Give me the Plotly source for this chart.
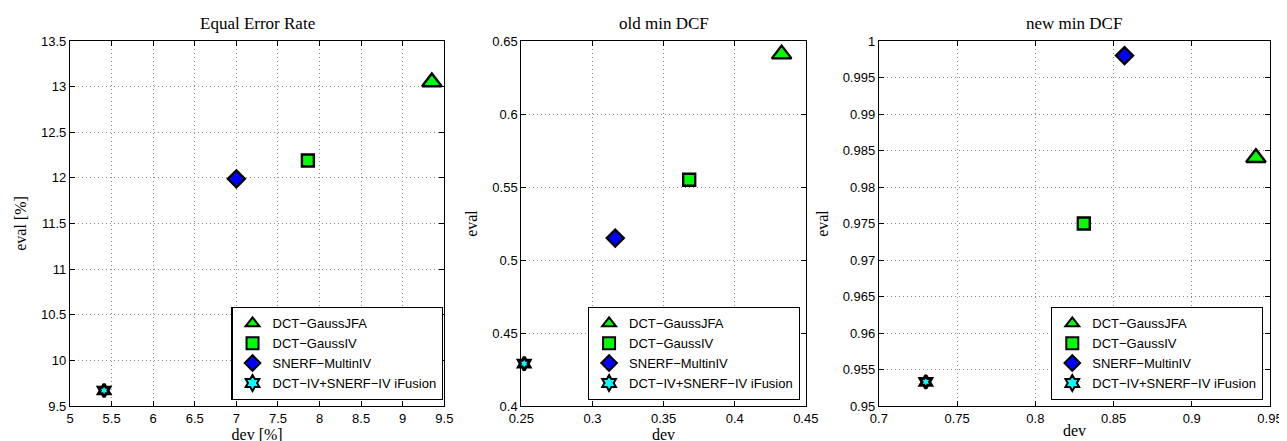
import plotly.graph_objects as go

series_names = ["DCT−GaussJFA", "DCT−GaussIV", "SNERF−MultinIV", "DCT−IV+SNERF−IV iFusion"]

eer_dev = [9.35, 7.86, 7.00, 5.41]
eer_eval = [13.05, 12.19, 11.99, 9.67]

old_dev = [0.433, 0.368, 0.316, 0.252]
old_eval = [0.641, 0.555, 0.515, 0.429]

new_dev = [0.941, 0.831, 0.857, 0.730]
new_eval = [0.984, 0.975, 0.998, 0.9533]

titles = ["Equal Error Rate", "old min DCF", "new min DCF"]
x_titles = ["dev [%]", "dev", "dev"]
y_titles = ["eval [%]", "eval", "eval"]
x_ranges = [[5, 9.5], [0.25, 0.45], [0.7, 0.95]]
y_ranges = [[9.5, 13.5], [0.4, 0.65], [0.95, 1.0]]
x_dticks = [0.5, 0.05, 0.05]
y_dticks = [0.5, 0.05, 0.005]

symbols = ["triangle-up", "square", "diamond", "hexagram"]
colors = ["#00ff00", "#00ff00", "#0000ff", "#00ffff"]
sizes = [17, 12, 13, 10]
edge_widths = [2.4, 2.4, 2.4, 3.0]

W, H = 1287, 441
ml, mr, mt, mb = 58, 14, 33, 35
pw = W - ml - mr
ph = H - mt - mb

def fx(px):
    return (px - ml) / pw

def fy(py):
    return (H - mb - py) / ph

domains = [[fx(58), fx(437)], [fx(515), fx(803)], [fx(877), fx(1273)]]

fig = go.Figure()
data = [(eer_dev, eer_eval), (old_dev, old_eval), (new_dev, new_eval)]
legend_ids = ["legend", "legend2", "legend3"]

for p in range(3):
    xs, ys = data[p]
    xa = "x" if p == 0 else f"x{p+1}"
    ya = "y" if p == 0 else f"y{p+1}"
    for i in range(4):
        fig.add_trace(go.Scatter(
            x=[xs[i]], y=[ys[i]], mode="markers", name=series_names[i],
            xaxis=xa, yaxis=ya, legend=legend_ids[p],
            marker=dict(symbol=symbols[i], color=colors[i], size=sizes[i],
                        line=dict(color="black", width=edge_widths[i])),
            cliponaxis=False,
        ))

axis_font = dict(family="Liberation Sans, Arial", size=13, color="black")
title_font = dict(family="Liberation Serif, Times New Roman", size=17, color="black")
atitle_font = dict(family="Liberation Serif, Times New Roman", size=16, color="black")

layout = dict(
    width=W, height=H,
    margin=dict(l=ml, r=mr, t=mt, b=mb),
    paper_bgcolor="white", plot_bgcolor="white",
    showlegend=True,
)

for p in range(3):
    xk = "xaxis" if p == 0 else f"xaxis{p+1}"
    yk = "yaxis" if p == 0 else f"yaxis{p+1}"
    xa = "x" if p == 0 else f"x{p+1}"
    ya = "y" if p == 0 else f"y{p+1}"
    common = dict(showline=True, linecolor="black", linewidth=1.2, mirror="ticks",
                  ticks="inside", ticklen=5, tickcolor="black",
                  showgrid=True, gridcolor="#8c8c8c", griddash="1px,3px", gridwidth=1,
                  zeroline=False, tickfont=axis_font)
    layout[xk] = dict(common, domain=domains[p], range=x_ranges[p], dtick=x_dticks[p],
                      tick0=x_ranges[p][0], anchor=ya, ticklabelstandoff=0,
                      title=dict(text=x_titles[p], font=atitle_font, standoff=0))
    layout[yk] = dict(common, domain=[0, 1], range=y_ranges[p], dtick=y_dticks[p],
                      tick0=y_ranges[p][0], anchor=xa,
                      title=dict(text=y_titles[p], font=atitle_font, standoff=10))

legend_right = [437 - 1, 803 - 6, 1273 - 7]
for p in range(3):
    lk = legend_ids[p]
    layout[lk] = dict(
        x=fx(legend_right[p]), y=fy(400), xanchor="right", yanchor="bottom",
        bgcolor="white", bordercolor="black", borderwidth=1.2,
        font=dict(family="Liberation Sans, Arial", size=13, color="black"),
        tracegroupgap=0, itemsizing="constant",
    )

annotations = []
for p in range(3):
    cx = (domains[p][0] + domains[p][1]) / 2
    annotations.append(dict(text=titles[p], x=cx, y=1, xref="paper", yref="paper",
                            xanchor="center", yanchor="bottom", yshift=6, showarrow=False,
                            font=title_font))
layout["annotations"] = annotations

fig.update_layout(**layout)
fig.write_html("out.html")
